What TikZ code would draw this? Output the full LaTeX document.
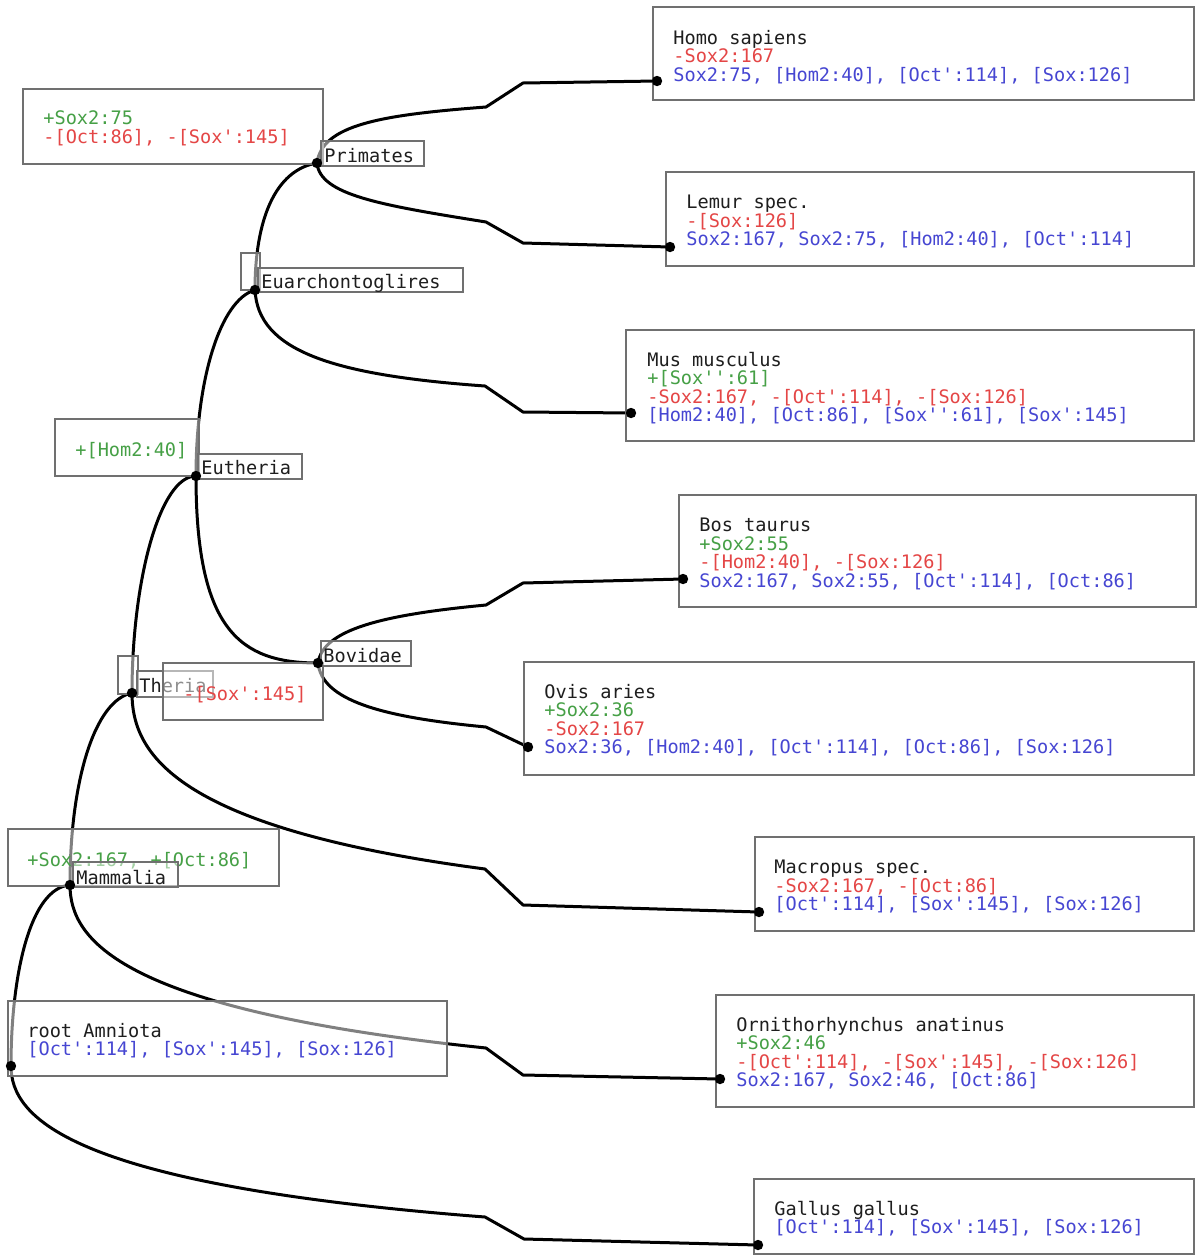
\documentclass[tikz,border=0pt]{standalone}
\usepackage{fontspec}
\setmonofont{DejaVu Sans Mono}
\usetikzlibrary{fit}
\definecolor{gn}{RGB}{70,160,70}
\definecolor{rd}{RGB}{228,70,70}
\definecolor{bl}{RGB}{70,70,210}
\definecolor{tx}{RGB}{30,30,30}
\definecolor{bx}{RGB}{112,112,112}
\newcommand{\firstln}{\rule{0pt}{7pt}}
\begin{document}
\begin{tikzpicture}[x=0.5pt,y=-0.5pt,
  edge/.style={line width=1.5pt, black, line join=round},
  box/.style={rectangle, draw=bx, line width=1.3pt, fill=white, fill opacity=0.5, text opacity=1, inner sep=0pt},
  txt/.style={anchor=north west, inner sep=0pt, align=left, text=tx, font=\ttfamily\fontsize{9.3}{9.25}\selectfont},
  lbl/.style={anchor=base west, inner sep=0pt, text=tx, font=\ttfamily\fontsize{9.3}{9.25}\selectfont}]
\useasboundingbox[fill=white] (0,0) rectangle (1200,1259);

% internal node points
\coordinate (root) at (11,1066);
\coordinate (mam) at (70,885);
\coordinate (the) at (132,693);
\coordinate (eut) at (196,476);
\coordinate (bov) at (318,663);
\coordinate (eua) at (255,290);
\coordinate (pri) at (317,163);
% leaf points
\coordinate (homoP) at (657,81);
\coordinate (lemP) at (670,247);
\coordinate (musP) at (631,413);
\coordinate (bosP) at (683,579);
\coordinate (ovisP) at (528,747);
\coordinate (macP) at (759,912);
\coordinate (ornP) at (720,1079);
\coordinate (galP) at (758,1245);
% kinks
\coordinate (homoA) at (486,107); \coordinate (homoB) at (523,83);
\coordinate (lemA) at (486,222);  \coordinate (lemB) at (523,243);
\coordinate (musA) at (485,386);  \coordinate (musB) at (523,412);
\coordinate (bosA) at (486,605);  \coordinate (bosB) at (523,583);
\coordinate (ovisA) at (486,727);
\coordinate (macA) at (485,869);  \coordinate (macB) at (523,905);
\coordinate (ornA) at (486,1048); \coordinate (ornB) at (523,1075);
\coordinate (galA) at (485,1217); \coordinate (galB) at (524,1239);

% edges
\draw[edge] (root) .. controls (11,975) and (30,888) .. (mam);
\draw[edge] (mam) .. controls (70,780) and (95,700) .. (the);
\draw[edge] (the) .. controls (132,580) and (160,476) .. (eut);
\draw[edge] (eut) .. controls (196,380) and (220,300) .. (eua);
\draw[edge] (eua) .. controls (255,220) and (275,170) .. (pri);
\draw[edge] (eut) .. controls (196,630) and (240,663) .. (bov);
\draw[edge] (pri) .. controls (322,125) and (380,115) .. (homoA) -- (homoB) -- (homoP);
\draw[edge] (pri) .. controls (320,195) and (380,205) .. (lemA) -- (lemB) -- (lemP);
\draw[edge] (eua) .. controls (258,350) and (330,375) .. (musA) -- (musB) -- (musP);
\draw[edge] (bov) .. controls (323,630) and (380,615) .. (bosA) -- (bosB) -- (bosP);
\draw[edge] (bov) .. controls (322,700) and (380,717) .. (ovisA) -- (ovisP);
\draw[edge] (the) .. controls (132,753) and (174,828) .. (macA) -- (macB) -- (macP);
\draw[edge] (mam) .. controls (70,940) and (120,1010) .. (ornA) -- (ornB) -- (ornP);
\draw[edge] (root) .. controls (11,1118) and (70,1185) .. (galA) -- (galB) -- (galP);

% root box
\node[box, fit={(8,1001) (447,1076)}] (rootBox) {};
\node[txt] (rootT) at (27,1022.5) {\firstln root Amniota\\\textcolor{bl}{[Oct':114], [Sox':145], [Sox:126]}};

% Mammalia
\node[box, fit={(8,829) (279,886)}] (mamAnn) {};
\node[txt] (mamAnnT) at (27,851.5) {\firstln\textcolor{gn}{+Sox2:167, +[Oct:86]}};
\node[box, fit={(73,862) (178,887)}] (mamLbl) {};
\node[lbl] (mamT) at (76,884) {Mammalia};

% Theria
\node[box, fit={(118,656) (138,694)}] (theAnn) {};
\node[box, fit={(137,671) (213,697)}] (theLbl) {};
\node[lbl] (theT) at (139,692) {Theria};

% Eutheria
\node[box, fit={(55,419) (199,476)}] (eutAnn) {};
\node[txt] (eutAnnT) at (75,441.5) {\firstln\textcolor{gn}{+[Hom2:40]}};
\node[box, fit={(198,454) (302,479)}] (eutLbl) {};
\node[lbl] (eutT) at (201,474) {Eutheria};

% Euarchontoglires
\node[box, fit={(241,253) (260,290)}] (euaAnn) {};
\node[box, fit={(258,268) (463,292)}] (euaLbl) {};
\node[lbl] (euaT) at (261,288) {Euarchontoglires};

% Primates
\node[box, fit={(23,89) (323,164)}] (priAnn) {};
\node[txt] (priAnnT) at (43,110.5) {\firstln\textcolor{gn}{+Sox2:75}\\\textcolor{rd}{-[Oct:86], -[Sox':145]}};
\node[box, fit={(321,141) (424,166)}] (priLbl) {};
\node[lbl] (priT) at (324,162) {Primates};

% Bovidae
\node[box, fit={(163,663) (323,720)}] (bovAnn) {};
\node[txt] (bovAnnT) at (183,685.5) {\firstln\textcolor{rd}{-[Sox':145]}};
\node[box, fit={(321,641) (411,666)}] (bovLbl) {};
\node[lbl] (bovT) at (323,662) {Bovidae};

% leaves
\node[box, fit={(653,7) (1194,100)}] (homoBox) {};
\node[txt] (homoT) at (673,29.5) {\firstln Homo sapiens\\\textcolor{rd}{-Sox2:167}\\\textcolor{bl}{Sox2:75, [Hom2:40], [Oct':114], [Sox:126]}};

\node[box, fit={(666,172) (1194,266)}] (lemBox) {};
\node[txt] (lemT) at (686,194.5) {\firstln Lemur spec.\\\textcolor{rd}{-[Sox:126]}\\\textcolor{bl}{Sox2:167, Sox2:75, [Hom2:40], [Oct':114]}};

\node[box, fit={(626,330) (1194,441)}] (musBox) {};
\node[txt] (musT) at (647,351.5) {\firstln Mus musculus\\\textcolor{gn}{+[Sox'':61]}\\\textcolor{rd}{-Sox2:167, -[Oct':114], -[Sox:126]}\\\textcolor{bl}{[Hom2:40], [Oct:86], [Sox'':61], [Sox':145]}};

\node[box, fit={(679,495) (1196,607)}] (bosBox) {};
\node[txt] (bosT) at (699,517.5) {\firstln Bos taurus\\\textcolor{gn}{+Sox2:55}\\\textcolor{rd}{-[Hom2:40], -[Sox:126]}\\\textcolor{bl}{Sox2:167, Sox2:55, [Oct':114], [Oct:86]}};

\node[box, fit={(524,662) (1194,775)}] (ovisBox) {};
\node[txt] (ovisT) at (544,683.5) {\firstln Ovis aries\\\textcolor{gn}{+Sox2:36}\\\textcolor{rd}{-Sox2:167}\\\textcolor{bl}{Sox2:36, [Hom2:40], [Oct':114], [Oct:86], [Sox:126]}};

\node[box, fit={(755,837) (1194,931)}] (macBox) {};
\node[txt] (macT) at (774,859.5) {\firstln Macropus spec.\\\textcolor{rd}{-Sox2:167, -[Oct:86]}\\\textcolor{bl}{[Oct':114], [Sox':145], [Sox:126]}};

\node[box, fit={(716,995) (1194,1107)}] (ornBox) {};
\node[txt] (ornT) at (736,1016.5) {\firstln Ornithorhynchus anatinus\\\textcolor{gn}{+Sox2:46}\\\textcolor{rd}{-[Oct':114], -[Sox':145], -[Sox:126]}\\\textcolor{bl}{Sox2:167, Sox2:46, [Oct:86]}};

\node[box, fit={(754,1179) (1194,1254)}] (galBox) {};
\node[txt] (galT) at (774,1200.5) {\firstln Gallus gallus\\\textcolor{bl}{[Oct':114], [Sox':145], [Sox:126]}};

% dots
\foreach \p in {root,mam,the,eut,bov,eua,pri,homoP,lemP,musP,bosP,ovisP,macP,ornP,galP}
  \fill[black] (\p) circle[radius=2.6pt];
\end{tikzpicture}
\end{document}
